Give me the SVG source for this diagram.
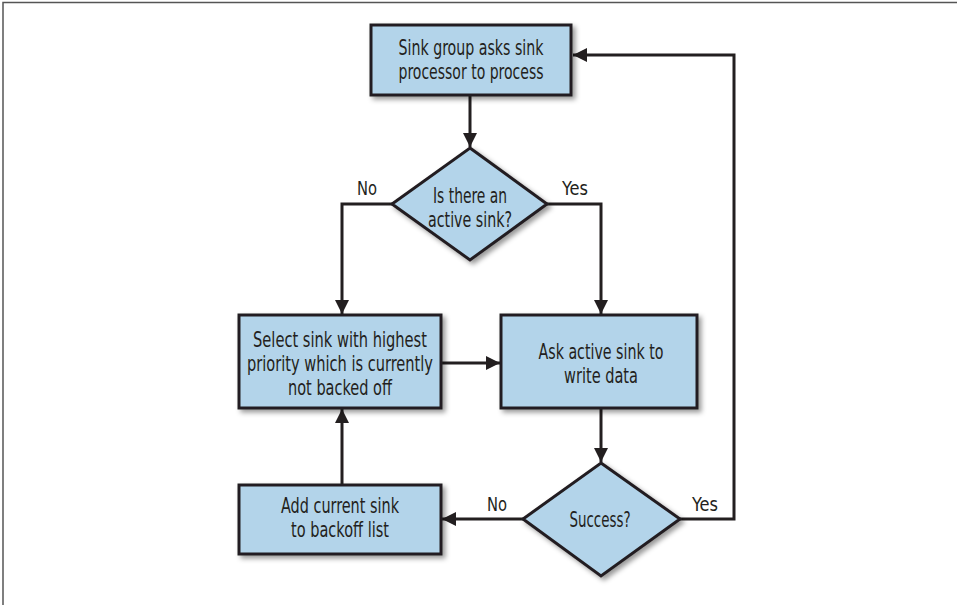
<svg xmlns="http://www.w3.org/2000/svg" width="957" height="605" viewBox="0 0 957 605">
<style>
.node{fill:#b3d4ea;stroke:#231f20;stroke-width:3;filter:url(#sh)}
.t{font-family:"DejaVu Sans Condensed","DejaVu Sans",sans-serif;font-stretch:condensed;font-size:21px;fill:#231f20;text-anchor:middle}
.lbl{font-family:"DejaVu Sans Condensed","DejaVu Sans",sans-serif;font-stretch:condensed;font-size:20px;fill:#231f20;text-anchor:middle}
.c{fill:none;stroke:#231f20;stroke-width:3;marker-end:url(#ar)}
</style>
<defs>
<filter id="sh" x="-10%" y="-10%" width="130%" height="140%">
<feDropShadow dx="3" dy="3" stdDeviation="2.5" flood-color="#000" flood-opacity="0.4"/>
</filter>
<marker id="ar" viewBox="0 0 14 14" refX="14" refY="7" markerWidth="14" markerHeight="14" markerUnits="userSpaceOnUse" orient="auto">
<path d="M0,0 L14,7 L0,14 z" fill="#231f20"/>
</marker>
</defs>
<rect width="957" height="605" fill="#fff"/>
<path d="M3,605 V2.5 H957" fill="none" stroke="#555" stroke-width="1.5"/>
<g id="connectors">
<path class="c" d="M470,96 V147"/>
<path class="c" d="M547,204 H601 V314"/>
<path class="c" d="M392,204 H342 V314"/>
<path class="c" d="M441,363 H500"/>
<path class="c" d="M601,409 V462"/>
<path class="c" d="M523,519 H442"/>
<path class="c" d="M342,485 V409"/>
<path class="c" d="M680,519 H734 V55 H573"/>
</g>
<g id="labels">
<text class="lbl" x="367" y="195" textLength="20" lengthAdjust="spacingAndGlyphs">No</text>
<text class="lbl" x="575" y="195" textLength="26" lengthAdjust="spacingAndGlyphs">Yes</text>
<text class="lbl" x="497" y="511" textLength="20" lengthAdjust="spacingAndGlyphs">No</text>
<text class="lbl" x="705" y="511" textLength="26" lengthAdjust="spacingAndGlyphs">Yes</text>
</g>
<g id="n1"><rect class="node" x="371" y="25" width="200" height="70"/>
<text class="t" x="471" y="55" textLength="145" lengthAdjust="spacingAndGlyphs">Sink group asks sink</text><text class="t" x="471" y="79" textLength="145" lengthAdjust="spacingAndGlyphs">processor to process</text></g>
<g id="n2"><polygon class="node" points="470,148 547,204 470,260 392,204"/>
<text class="t" x="470" y="203" textLength="74" lengthAdjust="spacingAndGlyphs">Is there an</text><text class="t" x="470" y="227" textLength="84" lengthAdjust="spacingAndGlyphs">active sink?</text></g>
<g id="n3"><rect class="node" x="239" y="315" width="202" height="93"/>
<text class="t" x="340" y="347" textLength="174" lengthAdjust="spacingAndGlyphs">Select sink with highest</text><text class="t" x="340" y="371" textLength="186" lengthAdjust="spacingAndGlyphs">priority which is currently</text><text class="t" x="340" y="395" textLength="104" lengthAdjust="spacingAndGlyphs">not backed off</text></g>
<g id="n4"><rect class="node" x="501" y="315" width="196" height="93"/>
<text class="t" x="601" y="359" textLength="125" lengthAdjust="spacingAndGlyphs">Ask active sink to</text><text class="t" x="601" y="383" textLength="74" lengthAdjust="spacingAndGlyphs">write data</text></g>
<g id="n5"><polygon class="node" points="601,463 680,519 601,576 523,519"/>
<text class="t" x="600" y="527" textLength="61" lengthAdjust="spacingAndGlyphs">Success?</text></g>
<g id="n6"><rect class="node" x="239" y="485" width="202" height="69"/>
<text class="t" x="340" y="513" textLength="118" lengthAdjust="spacingAndGlyphs">Add current sink</text><text class="t" x="340" y="537" textLength="98" lengthAdjust="spacingAndGlyphs">to backoff list</text></g>
</svg>
